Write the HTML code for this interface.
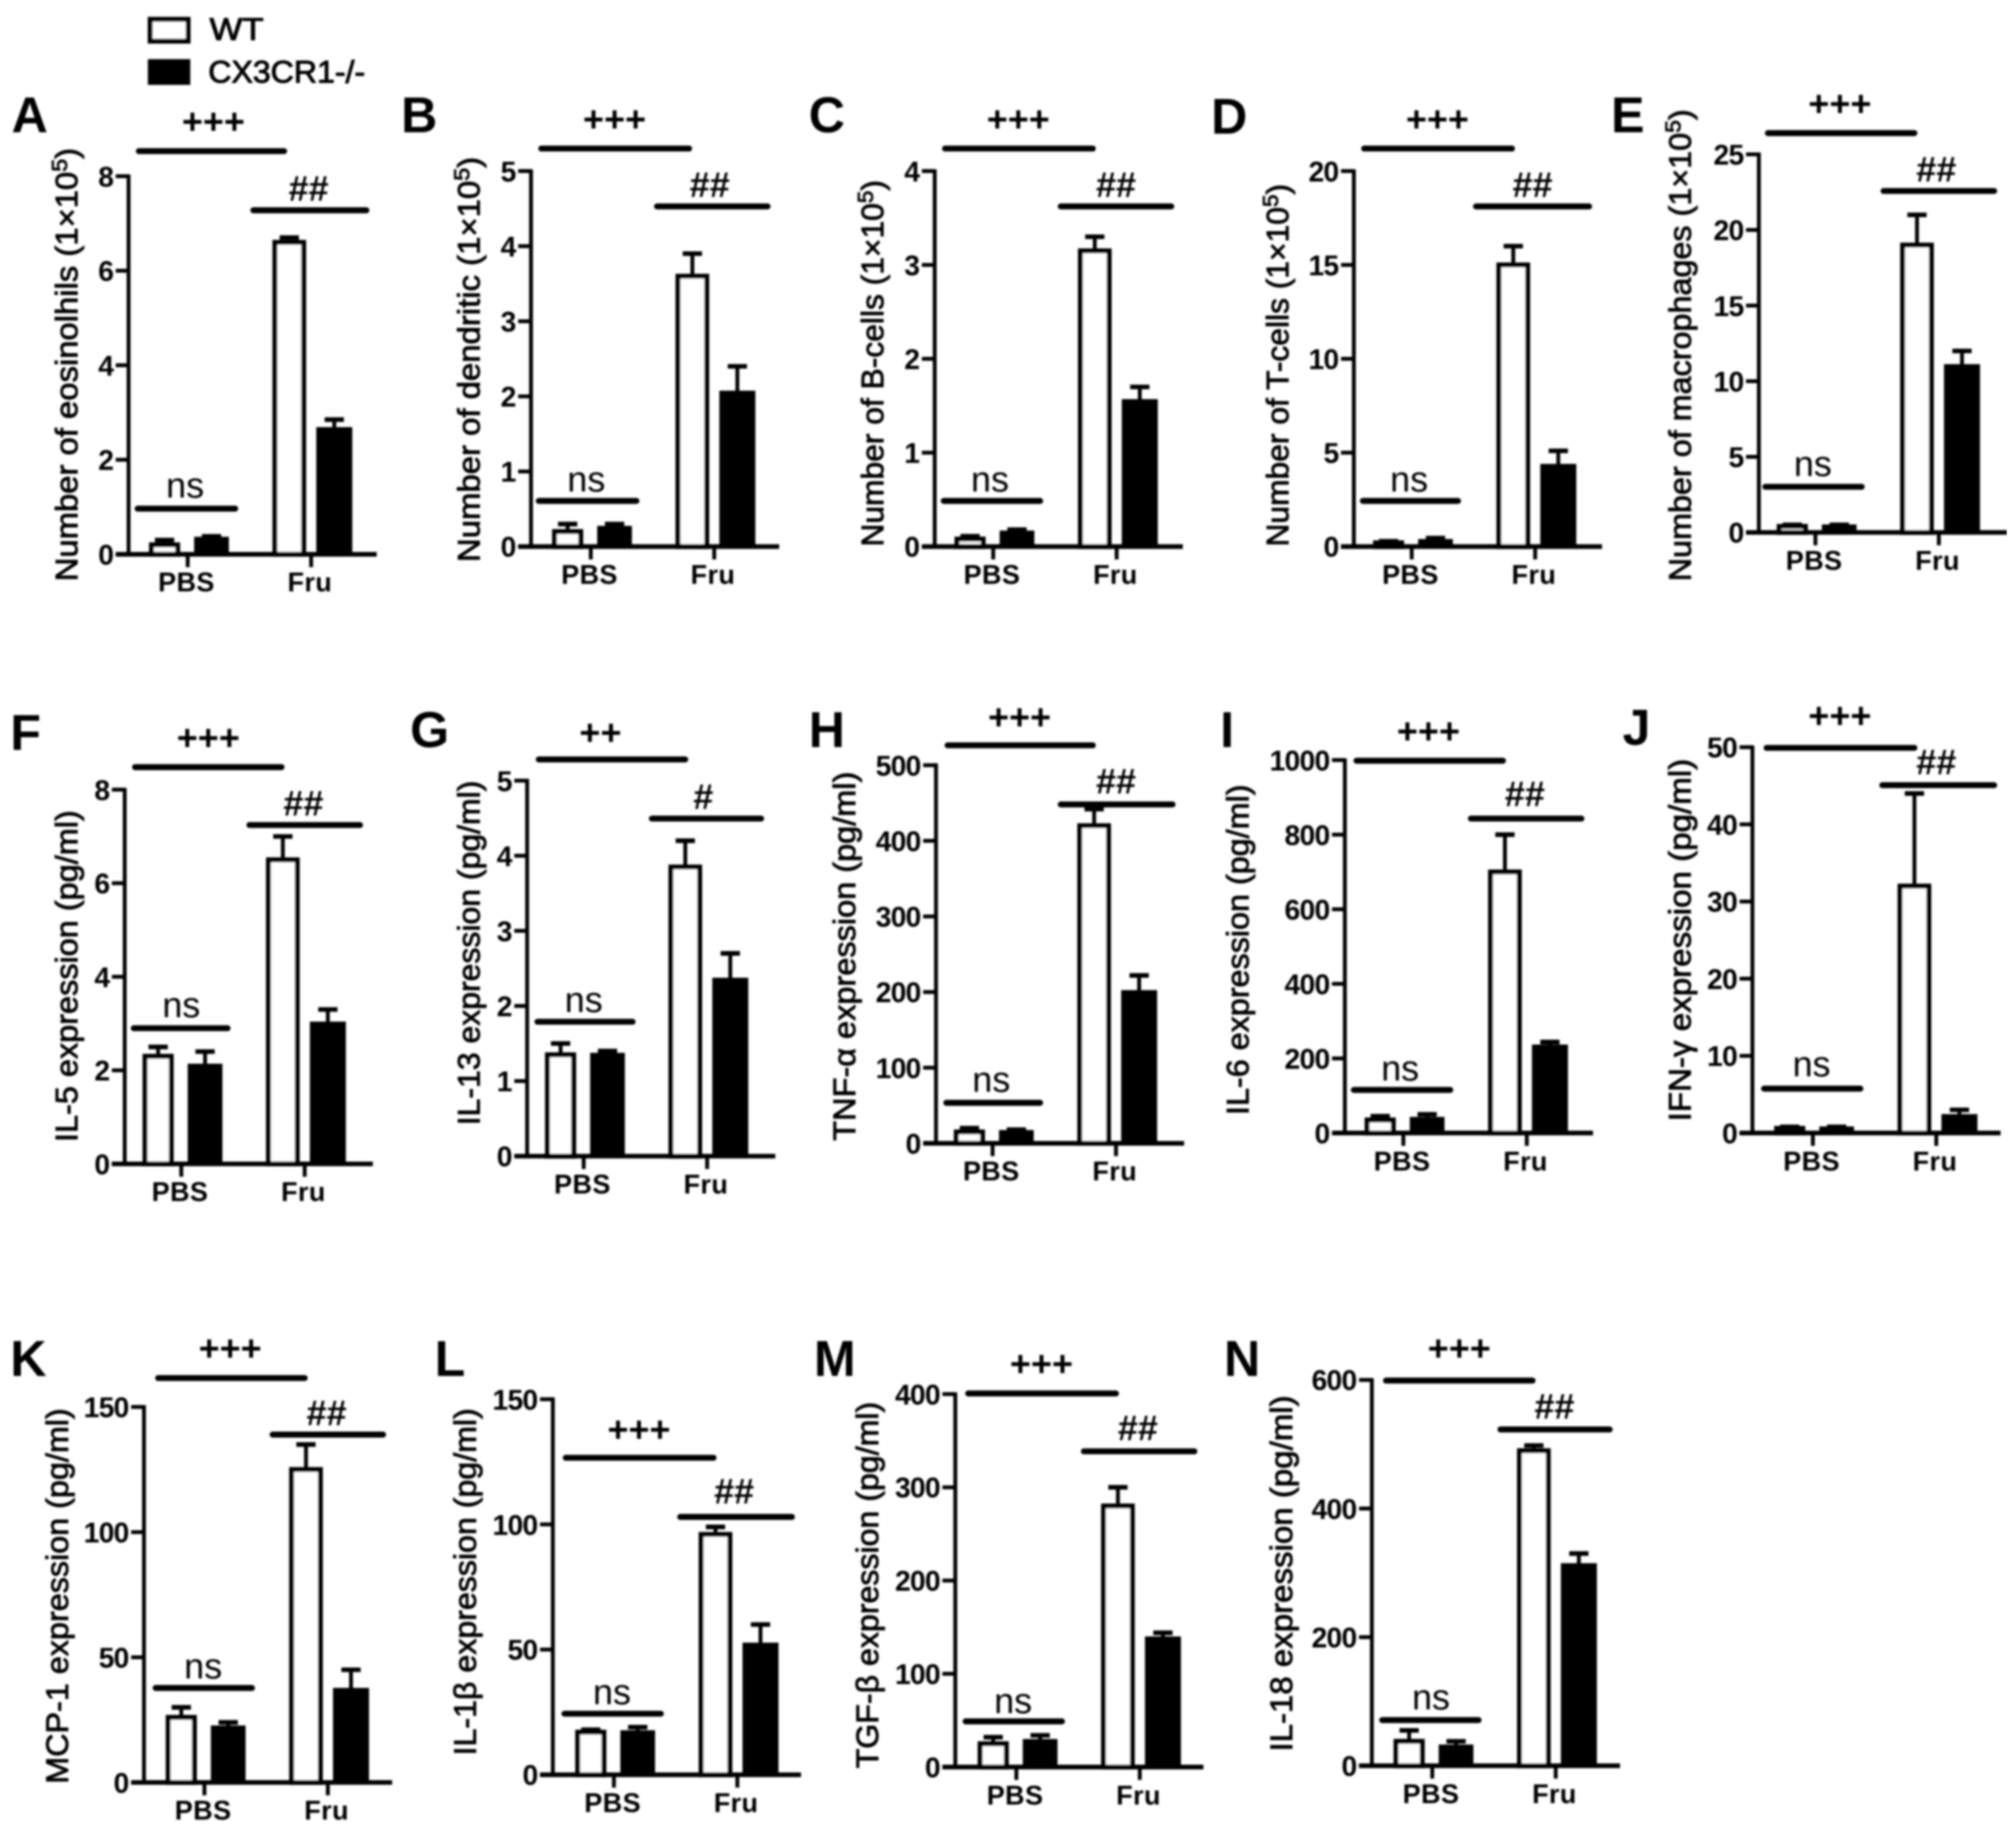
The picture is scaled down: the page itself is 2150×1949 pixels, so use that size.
<!DOCTYPE html>
<html lang="en">
<head>
<meta charset="utf-8">
<title>Cell counts and cytokine expression, WT vs CX3CR1-/-</title>
<style>
html,body{margin:0;padding:0;background:#fff;width:2150px;height:1949px;overflow:hidden}
svg{display:block}
text{font-family:"Liberation Sans",sans-serif;fill:#000}
.tick{font-weight:700;font-size:22px;text-anchor:end;letter-spacing:-.6px}
.cat{font-weight:700;font-size:21px;text-anchor:middle;letter-spacing:.3px}
.ylab{font-size:24px;font-weight:400;stroke:#000;stroke-width:.6px}
.letter{font-weight:700;font-size:39px}
.sig{font-weight:700;font-size:28px;text-anchor:middle}
.ns{font-weight:400;font-size:28px;text-anchor:middle}
.leg{font-weight:400;font-size:24px;stroke:#000;stroke-width:.7px}
</style>
</head>
<body>
<svg id="figure" xmlns="http://www.w3.org/2000/svg" width="2150" height="1949" viewBox="0 0 1568 1421.4">
<defs><filter id="soft" x="0" y="0" width="100%" height="100%"><feGaussianBlur stdDeviation="0.7"/></filter></defs>
<rect width="1568" height="1421.4" fill="#fff"/>
<g id="root" filter="url(#soft)">
<g>
<rect x="116.8" y="15" width="29.5" height="17" fill="#fff" stroke="#000" stroke-width="3.8"/>
<text class="leg" x="163" y="31" textLength="42" lengthAdjust="spacingAndGlyphs">WT</text>
<rect x="115" y="46" width="33" height="20" fill="#000"/>
<text class="leg" x="162" y="64" textLength="122" lengthAdjust="spacingAndGlyphs">CX3CR1-/-</text>
</g>
</g>
</svg>
<script>
const categories = ["PBS", "Fru"];
const seriesNames = ["WT", "CX3CR1-/-"];

// Values are ordered PBS-WT, PBS-KO, Fru-WT, Fru-KO.
const meansA = [0.2, 0.33, 6.6, 2.65];
const errorsA = [0.1, 0.05, 0.1, 0.2];
const ticksA = [0, 2, 4, 6, 8];

const meansB = [0.2, 0.25, 3.6, 2.05];
const errorsB = [0.1, 0.05, 0.3, 0.35];
const ticksB = [0, 1, 2, 3, 4, 5];

const meansC = [0.08, 0.15, 3.15, 1.55];
const errorsC = [0.03, 0.03, 0.15, 0.15];
const ticksC = [0, 1, 2, 3, 4];

const meansD = [0.2, 0.3, 15, 4.3];
const errorsD = [0.08, 0.15, 1, 0.8];
const ticksD = [0, 5, 10, 15, 20];

const meansE = [0.4, 0.4, 19, 11];
const errorsE = [0.1, 0.1, 2, 1];
const ticksE = [0, 5, 10, 15, 20, 25];

const meansF = [2.3, 2.1, 6.5, 3];
const errorsF = [0.2, 0.3, 0.5, 0.3];
const ticksF = [0, 2, 4, 6, 8];

const meansG = [1.35, 1.35, 3.85, 2.35];
const errorsG = [0.15, 0.05, 0.35, 0.35];
const ticksG = [0, 1, 2, 3, 4, 5];

const meansH = [15, 15, 420, 200];
const errorsH = [5, 3, 22, 22];
const ticksH = [0, 100, 200, 300, 400, 500];

const meansI = [35, 38, 700, 232];
const errorsI = [10, 12, 100, 12];
const ticksI = [0, 200, 400, 600, 800, 1000];

const meansJ = [0.6, 0.6, 32, 2.2];
const errorsJ = [0.2, 0.2, 12, 0.8];
const ticksJ = [0, 10, 20, 30, 40, 50];

const meansK = [26, 22, 125, 37];
const errorsK = [4, 2, 10, 8];
const ticksK = [0, 50, 100, 150];

const meansL = [17, 17, 96, 52];
const errorsL = [1, 2, 3, 8];
const ticksL = [0, 50, 100, 150];

const meansM = [25, 28, 280, 138];
const errorsM = [7, 6, 20, 6];
const ticksM = [0, 100, 200, 300, 400];

const meansN = [38, 30, 490, 312];
const errorsN = [17, 8, 8, 18];
const ticksN = [0, 200, 400, 600];

// Panel layout (separate from the data above).
const panels = [
 {id:"A",lx:9,ly:103,ax:100,dx:-1,top:137,base:431,m:meansA,e:errorsA,t:ticksA,title:"Number of eosinolhils (1×10",sup:true,tx:60,ty:452,tl:337,
  s1:"+++",l1:[107,222,117],p1:[166,95],l2:[196,286,163],p2:[240,147],s2:"##",l3:[106,184,395],p3:[144,378]},
 {id:"B",lx:312,ly:103,ax:413,dx:-0.5,top:133,base:425,m:meansB,e:errorsB,t:ticksB,title:"Number of dendritic (1×10",sup:true,tx:373,ty:437,tl:315,
  s1:"+++",l1:[420,537,115],p1:[478,93],l2:[510,598,160],p2:[552,144],s2:"##",l3:[418,496,389],p3:[456,373]},
 {id:"C",lx:629,ly:103,ax:727,dx:-1.5,top:133,base:425,m:meansC,e:errorsC,t:ticksC,title:"Number of B-cells (1×10",sup:true,tx:687,ty:425,tl:285,
  s1:"+++",l1:[734,851,115],p1:[792,93],l2:[824,912,160],p2:[868,144],s2:"##",l3:[733,810,389],p3:[770,373]},
 {id:"D",lx:942,ly:104,ax:1053,dx:-2,top:133,base:425,m:meansD,e:errorsD,t:ticksD,title:"Number of T-cells (1×10",sup:true,tx:1002,ty:425,tl:282,
  s1:"+++",l1:[1060,1177,115],p1:[1118,93],l2:[1147,1237,160],p2:[1192,144],s2:"##",l3:[1059,1135,389],p3:[1096,373]},
 {id:"E",lx:1253,ly:103,ax:1368,dx:-3,top:120,base:414,m:meansE,e:errorsE,t:ticksE,title:"Number of macrophages (1×10",sup:true,tx:1315,ty:452,tl:367,
  s1:"+++",l1:[1374,1490,103],p1:[1431,81],l2:[1464,1552,148],p2:[1506,132],s2:"##",l3:[1372,1449,378],p3:[1410,361]},
 {id:"F",lx:8,ly:583,ax:97,dx:-3,top:614,base:905,m:meansF,e:errorsF,t:ticksF,title:"IL-5 expression (pg/ml)",sup:false,tx:60,ty:888,tl:258,
  s1:"+++",l1:[104,220,596],p1:[162,574],l2:[193,281,641],p2:[236,625],s2:"##",l3:[103,178,799],p3:[141,782]},
 {id:"G",lx:319,ly:581,ax:410,dx:-3,top:607,base:899,m:meansG,e:errorsG,t:ticksG,title:"IL-13 expression (pg/ml)",sup:false,tx:373,ty:875,tl:268,
  s1:"++",l1:[418,534,590],p1:[467,570],l2:[506,593,636],p2:[547,620],s2:"#",l3:[417,493,794],p3:[454,778]},
 {id:"H",lx:629,ly:581,ax:728,dx:-3,top:595,base:889,m:meansH,e:errorsH,t:ticksH,title:"TNF-α expression (pg/ml)",sup:false,tx:665,ty:887,tl:287,
  s1:"+++",l1:[736,851,579],p1:[793,558],l2:[824,913,625],p2:[868,608],s2:"##",l3:[735,810,857],p3:[771,840]},
 {id:"I",lx:949,ly:581,ax:1046,dx:-1.5,top:591,base:881,m:meansI,e:errorsI,t:ticksI,title:"IL-6 expression (pg/ml)",sup:false,tx:971,ty:867,tl:257,
  s1:"+++",l1:[1054,1170,591],p1:[1111,569],l2:[1143,1231,636],p2:[1186,618],s2:"##",l3:[1052,1129,847],p3:[1089,831]},
 {id:"J",lx:1262,ly:579,ax:1363,dx:0,top:581,base:881,m:meansJ,e:errorsJ,t:ticksJ,title:"IFN-γ expression (pg/ml)",sup:false,tx:1315,ty:872,tl:282,
  s1:"+++",l1:[1373,1490,581],p1:[1431,557],l2:[1463,1552,610],p2:[1506,593],s2:"##",l3:[1371,1448,846],p3:[1409,828]},
 {id:"K",lx:8,ly:1070,ax:112,dx:0,top:1094,base:1386,m:meansK,e:errorsK,t:ticksK,title:"MCP-1 expression (pg/ml)",sup:false,tx:53,ty:1387,tl:292,
  s1:"+++",l1:[122,238,1071],p1:[179,1049],l2:[211,299,1115],p2:[254,1099],s2:"##",l3:[120,197,1312],p3:[158,1296]},
 {id:"L",lx:338,ly:1070,ax:430,dx:0.5,top:1088,base:1380,m:meansL,e:errorsL,t:ticksL,title:"IL-1β expression (pg/ml)",sup:false,tx:370,ty:1365,tl:270,
  s1:"+++",l1:[439,556,1133],p1:[497,1112],l2:[528,617,1179],p2:[571,1160],s2:"##",l3:[438,515,1332],p3:[476,1316]},
 {id:"M",lx:633,ly:1070,ax:743,dx:0.5,top:1084,base:1374,m:meansM,e:errorsM,t:ticksM,title:"TGF-β expression (pg/ml)",sup:false,tx:683,ty:1375,tl:285,
  s1:"+++",l1:[752,869,1083],p1:[810,1061],l2:[842,930,1128],p2:[885,1111],s2:"##",l3:[750,827,1338],p3:[788,1323]},
 {id:"N",lx:952,ly:1070,ax:1067,dx:0,top:1073,base:1373,m:meansN,e:errorsN,t:ticksN,title:"IL-18 expression (pg/ml)",sup:false,tx:1005,ty:1362,tl:277,
  s1:"+++",l1:[1077,1193,1073],p1:[1135,1049],l2:[1166,1253,1111],p2:[1209,1094],s2:"##",l3:[1074,1151,1337],p3:[1113,1320]}
];

const NS = "http://www.w3.org/2000/svg";
const root = document.getElementById("root");
const barLeft = [17, 52, 113, 147];
const barRight = [41, 79, 139, 175];
const catOffset = [47, 143];

function make(parent, tag, attrs, txt) {
  const n = document.createElementNS(NS, tag);
  for (const k in attrs) n.setAttribute(k, attrs[k]);
  if (txt !== undefined) n.textContent = txt;
  parent.appendChild(n);
  return n;
}
function rule(parent, x1, y1, x2, y2, w, cap) {
  return make(parent, "line", {x1:x1, y1:y1, x2:x2, y2:y2, stroke:"#000", "stroke-width":w, "stroke-linecap":cap || "butt"});
}

panels.forEach(function (p) {
  const key = p.id.toLowerCase();
  const maxTick = p.t[p.t.length - 1];
  const yScale = function (v) { return p.base - (v / maxTick) * (p.base - p.top); };
  const xOf = function (o) { return p.ax + p.dx + o; };

  const g = make(root, "g", {});
  
  

  const letter = make(g, "text", {class:"letter", x:p.lx, y:p.ly}, p.id);
  
  

  // bars and error bars first, so axes sit on top
  p.m.forEach(function (mean, i) {
    const x0 = xOf(barLeft[i]), x1 = xOf(barRight[i]), cx = (x0 + x1) / 2;
    const yv = yScale(mean), ye = yScale(mean + p.e[i]);
    const err = make(g, "g", {});
    
    
    rule(err, cx, yv, cx, ye, 3);
    rule(err, cx - 7.5, ye, cx + 7.5, ye, 3.6);
    const isWT = i % 2 === 0;
    const bar = make(g, "rect", isWT
      ? {x:x0 + 1.8, y:yv, width:x1 - x0 - 3.6, height:Math.max(0, p.base - yv), fill:"#fff", stroke:"#000", "stroke-width":3.8}
      : {x:x0, y:yv - 1.5, width:x1 - x0, height:Math.max(0, p.base - yv + 1.5), fill:"#000"});
    
    
  });

  const axisY = rule(g, p.ax, p.top - 1.4, p.ax, p.base + 1.4, 3);
  
  
  const axisX = rule(g, p.ax - 10, p.base, p.ax + 193, p.base, 3.6);
  
  

  p.t.forEach(function (v) {
    const y = yScale(v);
    const tk = rule(g, p.ax - 10, y, p.ax, y, 3);
    
    
    const lab = make(g, "text", {class:"tick", x:p.ax - 12, y:y + 8}, String(v));
    
    
  });

  categories.forEach(function (c, i) {
    const x = xOf(catOffset[i]);
    const tk = rule(g, x, p.base, x, p.base + 10, 3);
    
    
    const lab = make(g, "text", {class:"cat", x:x - 1, y:p.base + 29}, c);
    
    
  });

  const yl = make(g, "text", {class:"ylab", transform:"translate(" + p.tx + "," + p.ty + ") rotate(-90)", textLength:p.tl, lengthAdjust:"spacingAndGlyphs"}, p.title);
  
  
  if (p.sup) {
    make(yl, "tspan", {dy:"-8", "font-size":"17"}, "5");
    make(yl, "tspan", {dy:"8"}, ")");
  }

  const l1 = rule(g, p.l1[0] + 1, p.l1[2] + 0.5, p.l1[1] - 1, p.l1[2] + 0.5, 4.6, "round");
  
  
  const t1 = make(g, "text", {class:"sig", x:p.p1[0], y:p.p1[1] + 9}, p.s1);
  
  

  const l2 = rule(g, p.l2[0] + 1, p.l2[2] + 0.5, p.l2[1] - 1, p.l2[2] + 0.5, 4.6, "round");
  
  
  const t2 = make(g, "text", {class:"sig", x:p.p2[0], y:p.p2[1] + 9}, p.s2);
  
  

  const l3 = rule(g, p.l3[0] + 1, p.l3[2] + 0.5, p.l3[1] - 1, p.l3[2] + 0.5, 4.6, "round");
  
  
  const t3 = make(g, "text", {class:"ns", x:p.p3[0], y:p.p3[1] + 9}, "ns");
  
  
});
</script>
</body>
</html>
